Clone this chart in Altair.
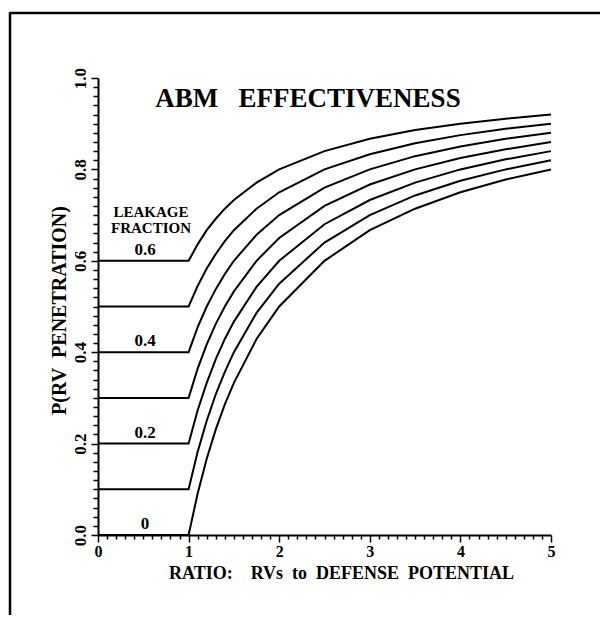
import altair as alt
import pandas as pd

# ratio values (x) sampled along every curve
ratio = [0.0, 1.0, 1.1, 1.2, 1.3, 1.4, 1.5, 1.75, 2.0, 2.5, 3.0, 3.5, 4.0, 4.5, 5.0]

# leakage fraction of each curve
leakage = [0.0, 0.1, 0.2, 0.3, 0.4, 0.5, 0.6]

# P(RV penetration), one list per leakage fraction
p_00 = [0.0, 0.0, 0.091, 0.167, 0.231, 0.286, 0.333, 0.429, 0.50, 0.60, 0.667, 0.714, 0.750, 0.778, 0.80]
p_01 = [0.1, 0.1, 0.182, 0.250, 0.308, 0.357, 0.400, 0.486, 0.55, 0.64, 0.700, 0.743, 0.775, 0.800, 0.82]
p_02 = [0.2, 0.2, 0.273, 0.333, 0.385, 0.429, 0.467, 0.543, 0.60, 0.68, 0.733, 0.771, 0.800, 0.822, 0.84]
p_03 = [0.3, 0.3, 0.364, 0.417, 0.462, 0.500, 0.533, 0.600, 0.65, 0.72, 0.767, 0.800, 0.825, 0.844, 0.86]
p_04 = [0.4, 0.4, 0.455, 0.500, 0.538, 0.571, 0.600, 0.657, 0.70, 0.76, 0.800, 0.829, 0.850, 0.867, 0.88]
p_05 = [0.5, 0.5, 0.545, 0.583, 0.615, 0.643, 0.667, 0.714, 0.75, 0.80, 0.833, 0.857, 0.875, 0.889, 0.90]
p_06 = [0.6, 0.6, 0.636, 0.667, 0.692, 0.714, 0.733, 0.771, 0.80, 0.84, 0.867, 0.886, 0.900, 0.911, 0.92]
series = [p_00, p_01, p_02, p_03, p_04, p_05, p_06]

# annotation texts
curve_labels = ["0", "0.2", "0.4", "0.6"]
curve_label_values = [0.0, 0.2, 0.4, 0.6]
legend_lines = ["LEAKAGE", "FRACTION"]
chart_title = "ABM\u00a0\u00a0\u00a0EFFECTIVENESS"
x_title = "RATIO:\u00a0\u00a0\u00a0\u00a0RVs\u00a0\u00a0to\u00a0\u00a0DEFENSE\u00a0\u00a0POTENTIAL"
y_title = "P(RV\u00a0\u00a0PENETRATION)"

# axis tick positions
x_ticks = [round(i * 0.1, 1) for i in range(0, 51)]
y_ticks = [round(i * 0.02, 2) for i in range(0, 51)]

rows = []
for L, vals in zip(leakage, series):
    for r, p in zip(ratio, vals):
        rows.append({"ratio": r, "p": p, "leak": L})
df = pd.DataFrame(rows)

FONT = "Liberation Serif"

xscale = alt.Scale(domain=[0, 5], nice=False, zero=False)
yscale = alt.Scale(domain=[0, 1], nice=False, zero=False)

x_major = "abs(datum.value - round(datum.value)) < 0.001"
y_major = "abs(datum.value * 5 - round(datum.value * 5)) < 0.001"

x_axis = alt.Axis(
    values=x_ticks, tickCount=200,
    labelExpr=x_major + " ? format(datum.value, 'd') : ''",
    tickSize={"condition": {"test": x_major, "value": 7}, "value": 4},
    tickWidth=1.5, tickColor="black", domainWidth=2, domainColor="black",
    labelFont=FONT, labelFontSize=16, labelFontWeight="bold", labelColor="black",
    labelPadding=1, labelFlush=False, labelOverlap=False,
    title=x_title,
    titleFont=FONT, titleFontSize=18, titleFontWeight="bold", titleColor="black",
    titleX=243, titleY=43, titleBaseline="alphabetic", titleAlign="center",
    grid=False,
)

y_axis = alt.Axis(
    values=y_ticks, tickCount=200,
    labelExpr=y_major + " ? format(datum.value, '.1f') : ''",
    tickSize={"condition": {"test": y_major, "value": 7}, "value": 5},
    tickWidth=1.5, tickColor="black", domainWidth=2, domainColor="black",
    labelFont=FONT, labelFontSize=17, labelFontWeight="bold", labelColor="black",
    labelAngle=270, labelAlign="center", labelBaseline="bottom",
    labelPadding=2, labelFlush=False, labelOverlap=False,
    title=y_title,
    titleFont=FONT, titleFontSize=20, titleFontWeight="bold", titleColor="black",
    titleAngle=270, titleX=-29, titleY=232, titleAlign="center", titleBaseline="bottom",
    grid=False,
)

lines = alt.Chart(df).mark_line(color="black", strokeWidth=2, interpolate="linear").encode(
    x=alt.X("ratio:Q", scale=xscale, axis=x_axis),
    y=alt.Y("p:Q", scale=yscale, axis=y_axis),
    detail="leak:N",
)

lab_df = pd.DataFrame({"t": curve_labels, "v": curve_label_values})
curve_text = alt.Chart(lab_df).mark_text(
    font=FONT, fontSize=17, fontWeight="bold", color="black", baseline="bottom", dy=-2
).encode(
    x=alt.datum(0.52, scale=xscale),
    y=alt.Y("v:Q", scale=yscale),
    text="t:N",
)

leg_df = pd.DataFrame({"t": legend_lines, "row": [0, 1]})
legend_text = alt.Chart(leg_df).mark_text(
    font=FONT, fontSize=15, fontWeight="bold", color="black", align="center", baseline="middle"
).encode(
    x=alt.datum(0.585, scale=xscale),
    y=alt.Y("yy:Q", scale=yscale),
    text="t:N",
).transform_calculate(yy="0.707 - datum.row * 0.036")

title_text = alt.Chart(alt.Data(values=[{"t": chart_title}])).mark_text(
    font=FONT, fontSize=27, fontWeight="bold", color="black", align="center", baseline="alphabetic"
).encode(x=alt.value(210), y=alt.value(29), text="t:N")

frame_left = alt.Chart(alt.Data(values=[{}])).mark_rule(color="black", strokeWidth=2.5).encode(
    x=alt.value(-88), y=alt.value(-66), y2=alt.value(560)
)
frame_top = alt.Chart(alt.Data(values=[{}])).mark_rule(color="black", strokeWidth=2.5).encode(
    x=alt.value(-88), x2=alt.value(520), y=alt.value(-65)
)

chart = alt.layer(lines, curve_text, legend_text, title_text, frame_left, frame_top).properties(
    width=453,
    height=457,
    autosize=alt.AutoSizeParams(type="none"),
    padding={"left": 90, "top": 70, "right": 49, "bottom": 80},
).configure_view(stroke=None)

chart.save("out.html", embed_options={"renderer": "svg", "actions": False})
